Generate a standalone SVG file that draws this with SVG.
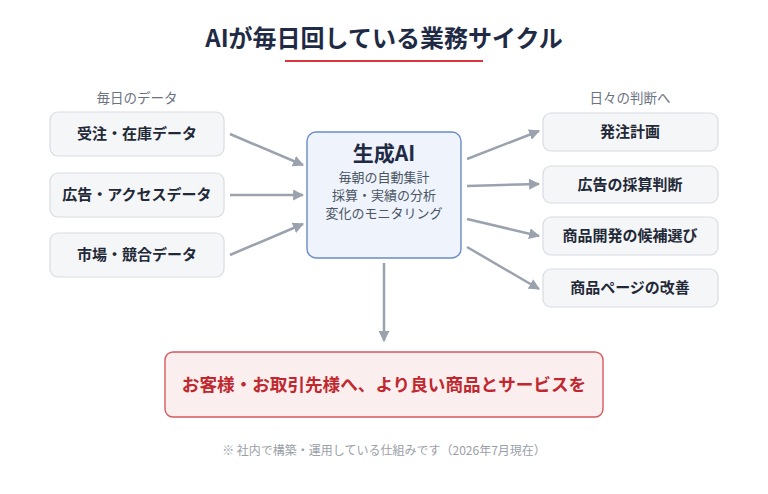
<svg xmlns="http://www.w3.org/2000/svg" width="768" height="494" viewBox="0 0 768 494">
<defs>
<style>
text{font-family:"Noto Sans CJK JP","Noto Sans",sans-serif;text-anchor:middle}
.title{font-size:24px;font-weight:700;fill:#1f2b45}
.lab{font-size:13.5px;fill:#6b7280}
.box{fill:#f5f6f8;stroke:#d8dce2;stroke-width:1.2}
.bt{font-size:15px;font-weight:700;fill:#1f2937}
.ai{fill:#eef3fc;stroke:#6a8cc9;stroke-width:1.4}
.sub{font-size:13px;fill:#4b5563}
.con line{stroke:#9aa2ae;stroke-width:2.5;marker-end:url(#ah)}
</style>
<marker id="ah" viewBox="0 0 10 10" refX="9" refY="5" markerWidth="4.4" markerHeight="4.4" orient="auto" markerUnits="strokeWidth">
<path d="M0,0 L10,5 L0,10 z" fill="#9aa2ae"/>
</marker>
</defs>
<rect width="768" height="494" fill="#ffffff"/>
<g id="title">
<text class="title" x="384" y="47">AIが毎日回している業務サイクル</text>
<line x1="285" y1="61" x2="483" y2="61" stroke="#d9363e" stroke-width="2"/>
</g>
<text class="lab" x="137" y="103">毎日のデータ</text>
<text class="lab" x="630" y="103">日々の判断へ</text>
<g id="in1"><rect class="box" x="50" y="112" width="174" height="44" rx="8"/><text class="bt" x="137" y="139">受注・在庫データ</text></g>
<g id="in2"><rect class="box" x="50" y="173" width="174" height="44" rx="8"/><text class="bt" x="137" y="200">広告・アクセスデータ</text></g>
<g id="in3"><rect class="box" x="50" y="233" width="174" height="44" rx="8"/><text class="bt" x="137" y="260">市場・競合データ</text></g>
<g id="ai">
<rect class="ai" x="307" y="132" width="154" height="126" rx="9"/>
<text x="384" y="161" style="font-size:21px;font-weight:700;fill:#1f2b45">生成AI</text>
<text class="sub" x="384" y="182">毎朝の自動集計</text>
<text class="sub" x="384" y="200">採算・実績の分析</text>
<text class="sub" x="384" y="218">変化のモニタリング</text>
</g>
<g id="out1"><rect class="box" x="543" y="113" width="175" height="38" rx="8"/><text class="bt" x="630" y="137">発注計画</text></g>
<g id="out2"><rect class="box" x="543" y="166" width="175" height="37" rx="8"/><text class="bt" x="630" y="190">広告の採算判断</text></g>
<g id="out3"><rect class="box" x="543" y="217" width="175" height="38" rx="8"/><text class="bt" x="630" y="241">商品開発の候補選び</text></g>
<g id="out4"><rect class="box" x="543" y="269" width="175" height="38" rx="8"/><text class="bt" x="630" y="293">商品ページの改善</text></g>
<g id="goal">
<rect x="165" y="352" width="438" height="65" rx="8" fill="#fbeeee" stroke="#d65a5e" stroke-width="1.4"/>
<text x="384" y="391" style="font-size:17.6px;font-weight:700;fill:#c0282f">お客様・お取引先様へ、より良い商品とサービスを</text>
</g>
<text x="384" y="455" style="font-size:12px;fill:#9aa0a8">※ 社内で構築・運用している仕組みです（2026年7月現在）</text>
<g class="con" id="connectors">
<line x1="230" y1="134" x2="303" y2="165"/>
<line x1="230" y1="195" x2="303" y2="195"/>
<line x1="230" y1="255" x2="303" y2="224"/>
<line x1="467" y1="159" x2="539" y2="131"/>
<line x1="467" y1="186" x2="539" y2="184"/>
<line x1="467" y1="219" x2="539" y2="236"/>
<line x1="467" y1="247" x2="539" y2="289"/>
<line x1="384" y1="263" x2="384" y2="341"/>
</g>
</svg>
